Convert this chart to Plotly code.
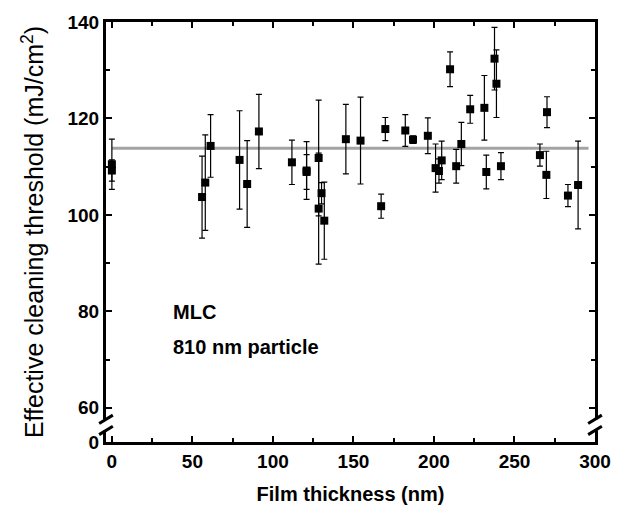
import plotly.graph_objects as go

# Film thickness (nm), effective cleaning threshold (mJ/cm^2) and its error
thickness = [0, 0, 56.0, 58.0, 61.3, 79.3, 84.0, 91.3, 111.8, 120.9, 120.9,
             128.4, 128.4, 130.2, 131.9, 145.3, 154.4, 167.2, 169.8, 182.2,
             187.0, 196.2, 201.0, 203.1, 204.8, 210.0, 213.8, 217.0, 222.5,
             231.3, 232.5, 237.6, 238.8, 241.6, 265.8, 270.2, 269.8, 283.2,
             289.5]
threshold = [110.5, 109.2, 103.7, 106.7, 114.3, 111.4, 106.4, 117.3, 110.9,
             109.2, 108.9, 111.8, 101.3, 104.5, 98.8, 115.7, 115.4, 101.8,
             117.8, 117.5, 115.6, 116.4, 109.7, 109.1, 111.3, 130.2, 110.1,
             114.7, 121.9, 122.2, 108.9, 132.4, 127.2, 110.1, 112.4, 121.3,
             108.3, 104.0, 106.2]
error = [5.2, 2.2, 8.5, 9.9, 6.5, 10.2, 9.0, 7.7, 4.6, 6.0, 3.6, 12.0, 11.5,
         2.2, 8.0, 7.2, 9.0, 2.5, 2.4, 3.3, 0.8, 3.7, 5.0, 2.5, 4.0, 3.6, 3.5,
         4.5, 2.9, 6.7, 3.5, 6.5, 7.0, 2.8, 2.3, 3.2, 4.9, 2.3, 9.1]

# Average threshold line
mean_threshold = 113.8
mean_span = [0, 296]

x_ticks = [0, 50, 100, 150, 200, 250, 300]
y_ticks = [60, 80, 100, 120, 140]

# Broken y axis: the bottom of the axis stands for 0
Y_LOW, Y_HIGH = 52.9, 140
X_LOW, X_HIGH = -3.65, 300

FONT = "Liberation Sans"

fig = go.Figure()

fig.add_trace(go.Scatter(
    x=mean_span, y=[mean_threshold] * len(mean_span), mode="lines",
    line=dict(color="#a3a3a3", width=3), hoverinfo="skip", showlegend=False))

fig.add_trace(go.Scatter(
    x=thickness, y=threshold, mode="markers",
    marker=dict(symbol="square", size=8, color="black"),
    error_y=dict(type="data", array=error, visible=True, color="black",
                 thickness=1.2, width=3),
    showlegend=False))

axis_common = dict(
    showline=True, linecolor="black", linewidth=3, mirror="ticks",
    ticks="inside", ticklen=6, tickwidth=2, tickcolor="black",
    showgrid=False, zeroline=False,
    tickfont=dict(family=FONT, size=19, color="black", weight="bold"),
)

fig.update_xaxes(
    range=[X_LOW, X_HIGH], tickvals=x_ticks,
    minor=dict(tickvals=[25, 75, 125, 175, 225, 275], ticks="inside",
               ticklen=4, tickwidth=2, tickcolor="black"),
    title=dict(text="Film thickness (nm)", standoff=17,
               font=dict(family=FONT, size=20, color="black", weight="bold")),
    **axis_common)

fig.update_yaxes(
    range=[Y_LOW, Y_HIGH], tickvals=[Y_LOW] + y_ticks,
    ticktext=["0"] + [str(v) for v in y_ticks],
    minor=dict(tickvals=[70, 90, 110, 130], ticks="inside",
               ticklen=4, tickwidth=2, tickcolor="black"),
    title=dict(text="Effective cleaning threshold (mJ/cm<sup>2</sup>)",
               standoff=17, font=dict(family=FONT, size=25, color="black")),
    **axis_common)


def ypaper(v):
    return (v - Y_LOW) / (Y_HIGH - Y_LOW)


# Axis-break marks on both vertical axes
shapes = []
brk_hi, brk_lo = ypaper(57.6), ypaper(55.3)
for xp in (0, 1):
    shapes.append(dict(type="line", xref="paper", yref="paper",
                       x0=xp, x1=xp, y0=brk_lo, y1=brk_hi,
                       line=dict(color="white", width=6), layer="above"))
    for yc in (brk_hi, brk_lo):
        shapes.append(dict(type="line", xref="paper", yref="paper",
                           x0=xp - 0.014, x1=xp + 0.014,
                           y0=yc - 0.01, y1=yc + 0.01,
                           line=dict(color="black", width=3), layer="above"))

annotations = [
    dict(x=36.5, y=79.9, xref="x", yref="y", text="MLC", showarrow=False,
         xanchor="left", yanchor="middle",
         font=dict(family=FONT, size=20, color="black", weight="bold")),
    dict(x=36.5, y=72.6, xref="x", yref="y", text="810 nm particle",
         showarrow=False, xanchor="left", yanchor="middle",
         font=dict(family=FONT, size=20, color="black", weight="bold")),
]

fig.update_layout(
    width=623, height=515,
    margin=dict(l=106, r=18, t=16, b=70),
    paper_bgcolor="white", plot_bgcolor="white",
    shapes=shapes, annotations=annotations,
)

fig.write_html("out.html")
